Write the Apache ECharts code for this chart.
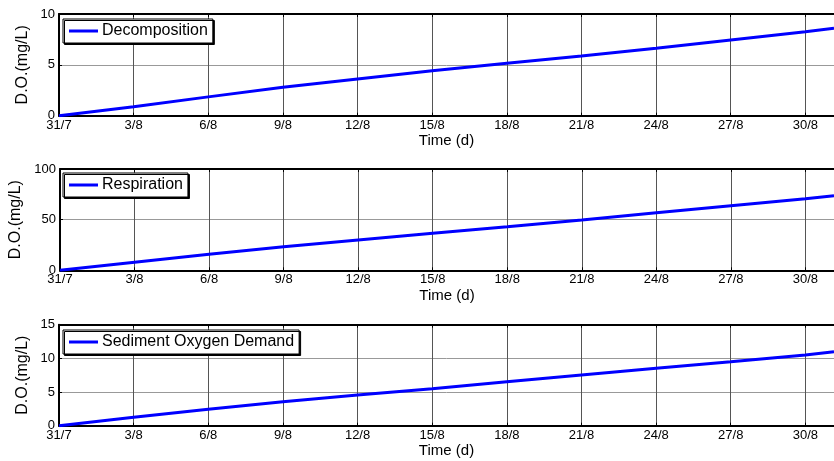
<!DOCTYPE html>
<html>
<head>
<meta charset="utf-8">
<script src="https://cdn.jsdelivr.net/npm/echarts@6/dist/echarts.min.js"></script>
<style>
  html, body { margin: 0; padding: 0; background: #fff; }
  #chart { width: 834px; height: 461px; }
</style>
</head>
<body>
<div id="chart"></div>
<script>
  // days since 31/7 at each tick, last point at the right edge
  const days = [0, 3, 6, 9, 12, 15, 18, 21, 24, 27, 30, 31.15];
  const decomposition = [0, 0.88, 1.85, 2.79, 3.61, 4.42, 5.15, 5.87, 6.63, 7.44, 8.26, 8.59];
  const respiration = [0, 7.9, 15.8, 23.3, 29.9, 36.5, 43.0, 49.7, 56.9, 63.8, 70.7, 73.6];
  const sedimentOD = [0, 1.25, 2.44, 3.56, 4.56, 5.5, 6.53, 7.53, 8.52, 9.5, 10.5, 11.0];

  const seriesNames = ['Decomposition', 'Respiration', 'Sediment Oxygen Demand'];
  const seriesData = [decomposition, respiration, sedimentOD];
  const yMax = [10, 100, 15];
  const yStep = [5, 50, 5];

  const font = 'Liberation Sans, Arial, Helvetica, sans-serif';
  const gridTops = [14, 169, 324.7];
  const gridHeights = [101.7, 101.3, 101];
  const legendTops = [19, 173, 330];
  const yNameGaps = [28, 36, 28];
  const xMax = 31.15;

  function dayLabel(d) {
    const dt = new Date(2000, 6, 31 + d);
    return dt.getDate() + '/' + (dt.getMonth() + 1);
  }

  const grid = [], xAxis = [], yAxis = [], series = [], legend = [];
  seriesNames.forEach(function (name, i) {
    // plot runs off the right edge of the window, so no right border
    grid.push({ left: 59, top: gridTops[i], right: 0, height: gridHeights[i], show: false });
    xAxis.push({
      type: 'value', gridIndex: i, min: 0, max: xMax, interval: 3,
      name: 'Time (d)', nameLocation: 'middle', nameGap: 18,
      nameTextStyle: { color: '#000', fontSize: 15, fontFamily: font },
      axisLine: { show: true, lineStyle: { color: '#000', width: 2 } },
      axisTick: { show: true, inside: true, length: 3, lineStyle: { color: '#000' } },
      axisLabel: {
        color: '#000', fontSize: 13, fontFamily: font, margin: 3,
        showMaxLabel: false, formatter: dayLabel
      },
      splitLine: { show: true, lineStyle: { color: '#555', width: 1 } }
    });
    // top edge: frame line and ticks
    xAxis.push({
      type: 'value', gridIndex: i, position: 'top', min: 0, max: xMax, interval: 3,
      axisLine: { show: true, lineStyle: { color: '#000', width: 2 } },
      axisTick: { show: true, inside: true, length: 3, lineStyle: { color: '#000' } },
      axisLabel: { show: false },
      splitLine: { show: false }
    });
    yAxis.push({
      type: 'value', gridIndex: i, min: 0, max: yMax[i], interval: yStep[i],
      name: 'D.O.(mg/L)', nameLocation: 'middle', nameGap: yNameGaps[i],
      nameMoveOverlap: false,
      nameTextStyle: { color: '#000', fontSize: 16, fontFamily: font },
      axisLine: { show: true, lineStyle: { color: '#000', width: 2 } },
      axisTick: { show: true, inside: true, length: 3, lineStyle: { color: '#000' } },
      axisLabel: { color: '#000', fontSize: 13, fontFamily: font, margin: 4 },
      splitLine: { show: true, lineStyle: { color: '#999', width: 1 } }
    });
    series.push({
      name: name, type: 'line', xAxisIndex: i * 2, yAxisIndex: i,
      data: days.map(function (d, k) { return [d, seriesData[i][k]]; }),
      showSymbol: false, symbol: 'none', silent: true, animation: false,
      lineStyle: { color: '#0000ff', width: 3 },
      itemStyle: { color: '#0000ff' }
    });
    legend.push({
      data: [name], left: 63, top: legendTops[i], orient: 'vertical',
      icon: 'rect', itemWidth: 29, itemHeight: 3, itemGap: 0,
      padding: [4, 5, 4, 6],
      backgroundColor: '#fff', borderColor: '#000', borderWidth: 1,
      shadowColor: '#000', shadowBlur: 0, shadowOffsetX: 1.5, shadowOffsetY: 1.5,
      textStyle: { color: '#000', fontSize: 16, fontFamily: font, padding: [0, 0, 0, -1] },
      selectedMode: false
    });
  });

  const chart = echarts.init(document.getElementById('chart'), null, { renderer: 'canvas' });
  chart.setOption({
    animation: false,
    backgroundColor: '#fff',
    grid: grid,
    xAxis: xAxis,
    yAxis: yAxis,
    legend: legend,
    series: series
  });
</script>
</body>
</html>
